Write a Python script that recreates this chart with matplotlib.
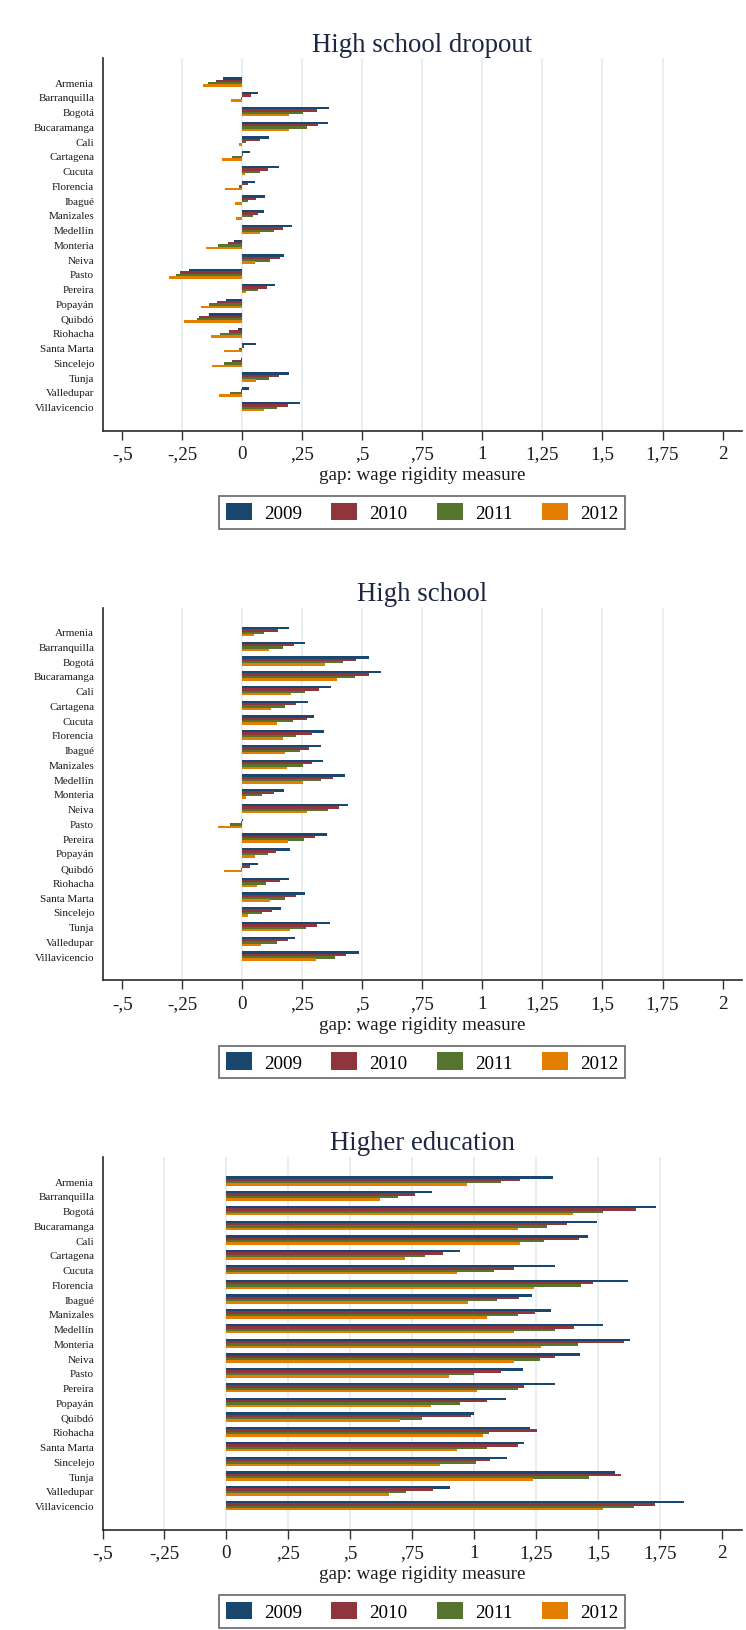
import numpy as np
import matplotlib
matplotlib.use("Agg")
from matplotlib import pyplot as plt
from matplotlib.patches import Patch

plt.rcParams['font.family'] = ['Liberation Serif', 'DejaVu Serif']

cities = ['Armenia', 'Barranquilla', 'Bogotá', 'Bucaramanga', 'Cali', 'Cartagena',
          'Cucuta', 'Florencia', 'Ibagué', 'Manizales', 'Medellín', 'Monteria',
          'Neiva', 'Pasto', 'Pereira', 'Popayán', 'Quibdó', 'Riohacha',
          'Santa Marta', 'Sincelejo', 'Tunja', 'Valledupar', 'Villavicencio']
years = ['2009', '2010', '2011', '2012']

# High school dropout
dropout_2009 = [-0.079, 0.065, 0.363, 0.356, 0.111, 0.031, 0.153, 0.051, 0.094, 0.090, 0.207, -0.036,
                0.175, -0.221, 0.135, -0.069, -0.140, -0.018, 0.056, -0.007, 0.193, 0.029, 0.239]
dropout_2010 = [-0.111, 0.038, 0.311, 0.315, 0.074, 0.004, 0.108, 0.025, 0.056, 0.065, 0.168, -0.061,
                0.157, -0.258, 0.101, -0.106, -0.182, -0.054, 0.006, -0.042, 0.151, -0.004, 0.189]
dropout_2011 = [-0.144, -0.004, 0.253, 0.269, 0.017, -0.042, 0.075, -0.013, 0.022, 0.044, 0.133, -0.100,
                0.115, -0.276, 0.065, -0.139, -0.189, -0.094, -0.015, -0.078, 0.111, -0.049, 0.143]
dropout_2012 = [-0.164, -0.047, 0.193, 0.196, -0.014, -0.085, 0.011, -0.072, -0.031, -0.026, 0.074, -0.150,
                0.051, -0.307, 0.014, -0.171, -0.244, -0.132, -0.078, -0.125, 0.056, -0.096, 0.092]

# High school
hs_2009 = [0.193, 0.263, 0.528, 0.579, 0.368, 0.274, 0.299, 0.342, 0.328, 0.336, 0.429, 0.174,
           0.442, 0.003, 0.353, 0.199, 0.067, 0.196, 0.263, 0.163, 0.364, 0.219, 0.488]
hs_2010 = [0.150, 0.215, 0.472, 0.528, 0.321, 0.224, 0.268, 0.292, 0.279, 0.292, 0.378, 0.131,
           0.404, -0.004, 0.303, 0.142, 0.031, 0.157, 0.222, 0.122, 0.313, 0.190, 0.433]
hs_2011 = [0.092, 0.168, 0.421, 0.468, 0.263, 0.178, 0.210, 0.225, 0.240, 0.254, 0.326, 0.081,
           0.358, -0.049, 0.258, 0.107, -0.004, 0.100, 0.179, 0.083, 0.265, 0.146, 0.385]
hs_2012 = [0.049, 0.113, 0.344, 0.396, 0.204, 0.121, 0.143, 0.171, 0.176, 0.185, 0.254, 0.015,
           0.269, -0.100, 0.190, 0.054, -0.074, 0.061, 0.114, 0.025, 0.199, 0.079, 0.305]

# Higher education
higher_2009 = [1.317, 0.830, 1.735, 1.495, 1.461, 0.942, 1.329, 1.623, 1.236, 1.310, 1.519, 1.631,
               1.427, 1.198, 1.328, 1.131, 0.999, 1.227, 1.203, 1.135, 1.571, 0.904, 1.849]
higher_2010 = [1.185, 0.763, 1.654, 1.376, 1.423, 0.875, 1.162, 1.479, 1.181, 1.245, 1.403, 1.605,
               1.328, 1.109, 1.203, 1.053, 0.987, 1.255, 1.176, 1.066, 1.595, 0.833, 1.732]
higher_2011 = [1.107, 0.693, 1.521, 1.293, 1.281, 0.804, 1.079, 1.430, 1.091, 1.176, 1.328, 1.420,
               1.266, 1.001, 1.176, 0.942, 0.792, 1.059, 1.052, 1.008, 1.463, 0.727, 1.647]
higher_2012 = [0.970, 0.622, 1.398, 1.178, 1.185, 0.720, 0.933, 1.243, 0.974, 1.053, 1.163, 1.272,
               1.163, 0.900, 1.012, 0.828, 0.703, 1.037, 0.933, 0.864, 1.237, 0.655, 1.519]

colors = ['#1a476f', '#90353b', '#55752f', '#e37e00']
xticks = [-0.5, -0.25, 0, 0.25, 0.5, 0.75, 1, 1.25, 1.5, 1.75, 2]
xticklabels = ['-,5', '-,25', '0', ',25', ',5', ',75', '1', '1,25', '1,5', '1,75', '2']

W, H = 746, 1631
fig = plt.figure(figsize=(W / 100, H / 100), dpi=100)


def fy(px):
    return 1 - px / H


panels = [
    ('High school dropout', [dropout_2009, dropout_2010, dropout_2011, dropout_2012], (-0.582, 2.081)),
    ('High school', [hs_2009, hs_2010, hs_2011, hs_2012], (-0.582, 2.081)),
    ('Higher education', [higher_2009, higher_2010, higher_2011, higher_2012], (-0.5, 2.082)),
]

left, right = 102.5, 742
top0, bottom0 = 59, 431.7
step = 549.5
ypos = np.arange(len(cities))
bh = 0.165
offsets = [-0.24, -0.08, 0.08, 0.24]

for k, (title, series, xlim) in enumerate(panels):
    top = top0 + k * step
    bottom = bottom0 + k * step
    ax = fig.add_axes([left / W, fy(bottom), (right - left) / W, (bottom - top) / H])

    for vals, off, c in zip(series, offsets, colors):
        ax.barh(ypos + off, vals, height=bh, color=c, linewidth=0, zorder=3)

    ax.set_xlim(*xlim)
    ax.set_ylim(len(cities) - 1 + 1.63, -1.63)
    # grid at the inner ticks only, none at the axis ends
    for t in xticks[1:-1]:
        ax.axvline(t, color='#e4ecef', linewidth=1.2, zorder=1)

    ax.set_xticks(xticks)
    ax.set_xticklabels(xticklabels)
    ax.tick_params(axis='x', direction='out', length=6.5, width=1.0, color='#333333',
                   labelsize=13.7, pad=4, labelcolor='#1a1a1a')
    ax.set_yticks(ypos)
    ax.set_yticklabels(cities)
    ax.tick_params(axis='y', length=0, labelsize=8, pad=6, labelcolor='#1a1a1a')

    for s in ['top', 'right']:
        ax.spines[s].set_visible(False)
    for s in ['left', 'bottom']:
        ax.spines[s].set_color('#2a2a2a')
        ax.spines[s].set_linewidth(1.2)

    fig.text(422 / W, fy(51.5 + k * step), title, ha='center', va='baseline',
             fontsize=19.3, color='#1c2541')
    fig.text(422 / W, fy(476 + k * step), 'gap: wage rigidity measure', ha='center',
             va='center', fontsize=13.7, color='#1a1a1a')

    handles = [Patch(facecolor=c, edgecolor='none') for c in colors]
    leg = fig.legend(handles, years, loc='center', bbox_to_anchor=(422 / W, fy(513.5 + k * step)),
                     ncol=4, fontsize=13.7, frameon=True, fancybox=False, handlelength=1.37,
                     handleheight=1.0, handletextpad=0.65, columnspacing=1.53,
                     borderpad=0.35, borderaxespad=0)
    leg.get_frame().set_edgecolor('#404040')
    leg.get_frame().set_linewidth(1.2)

fig.savefig('out.png', dpi=100, facecolor='white')
